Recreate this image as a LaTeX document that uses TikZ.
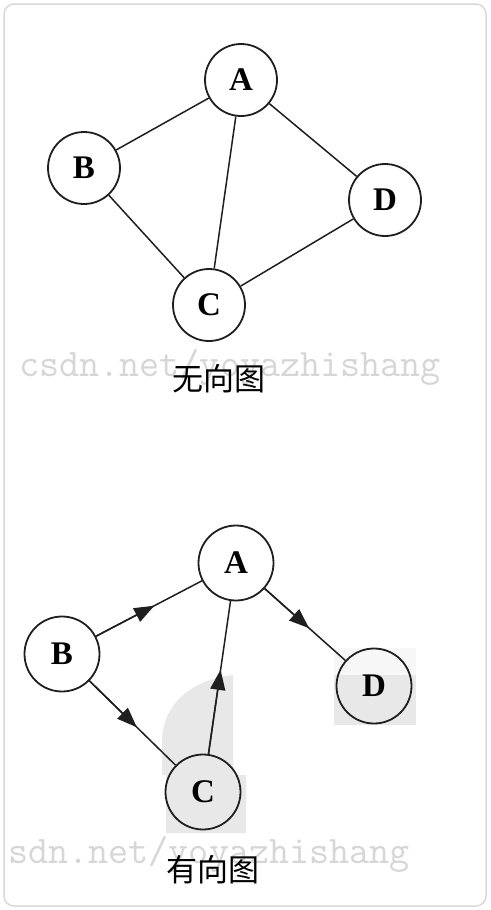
\documentclass[tikz,border=0pt]{standalone}
\usepackage{fontspec}
\setmainfont{Liberation Serif}
\newfontfamily\cjk{Noto Sans CJK SC}
\usetikzlibrary{arrows.meta}
\definecolor{wm}{gray}{0.84}
\definecolor{patch}{gray}{0.91}
\definecolor{ink}{gray}{0.12}
\definecolor{frame}{gray}{0.85}
\begin{document}
\begin{tikzpicture}[x=1pt,y=-1pt,
  vert/.style={circle,draw=ink,line width=1.8pt,minimum size=72pt,inner sep=0pt,
    font=\bfseries\fontsize{33}{33}\selectfont},
  bvert/.style={vert,minimum size=75pt},
  edge/.style={draw=ink,line width=1.5pt},
  headarrow/.style={draw=ink,line width=1.5pt,-{Triangle[length=20pt,width=15pt]}},
  capt/.style={font=\cjk\fontsize{31}{31}\selectfont,text=black,inner sep=0pt},
  wmark/.style={text=wm,font=\ttfamily\fontsize{39}{39}\selectfont,anchor=base west,inner sep=0pt}]
\useasboundingbox (0,0) rectangle (490,910);
\fill[white] (0,0) rectangle (490,910);
\draw[frame,line width=1.5pt,rounded corners=10pt] (4,4) rectangle (486,906);

% light gray watermark patches (lower graph)
\fill[patch] (233,675) .. controls (190,680) and (163,705) .. (162,740) -- (162,775) -- (166,775)
  -- (166,833) -- (246,833) -- (246,775) -- (233,775) -- cycle;
\fill[patch] (334,675) rectangle (416,725);
\fill[gray!6] (334,648) rectangle (416,675);

% watermarks
\node[wmark] (wm1) at (19,376) {csdn.net/yoyazhishang};
\node[wmark] (wm2) at (8,863) {sdn.net/yoyazhishang};

% undirected graph
\node[vert] (A) at (241,80) {A};
\node[vert] (B) at (84,168) {B};
\node[vert] (D) at (385,200) {D};
\node[vert] (C) at (209,305) {C};
\draw[edge] (A) -- (B);
\draw[edge] (A) -- (C);
\draw[edge] (A) -- (D);
\draw[edge] (B) -- (C);
\draw[edge] (C) -- (D);
\node[capt] (cap1) at (219,379) {无向图};

% directed graph
\node[bvert] (A2) at (236,563) {A};
\node[bvert] (B2) at (62,654) {B};
\node[bvert] (D2) at (374,686) {D};
\node[bvert] (C2) at (203,792) {C};
\draw[edge] (B2) -- (A2) coordinate[pos=0.55] (mBA);
\draw[edge] (B2) -- (C2) coordinate[pos=0.55] (mBC);
\draw[edge] (C2) -- (A2) coordinate[pos=0.55] (mCA);
\draw[edge] (A2) -- (D2) coordinate[pos=0.55] (mAD);
\draw[headarrow] (B2) -- (mBA);
\draw[headarrow] (B2) -- (mBC);
\draw[headarrow] (C2) -- (mCA);
\draw[headarrow] (A2) -- (mAD);
\node[capt] (cap2) at (213,870) {有向图};
\end{tikzpicture}
\end{document}
